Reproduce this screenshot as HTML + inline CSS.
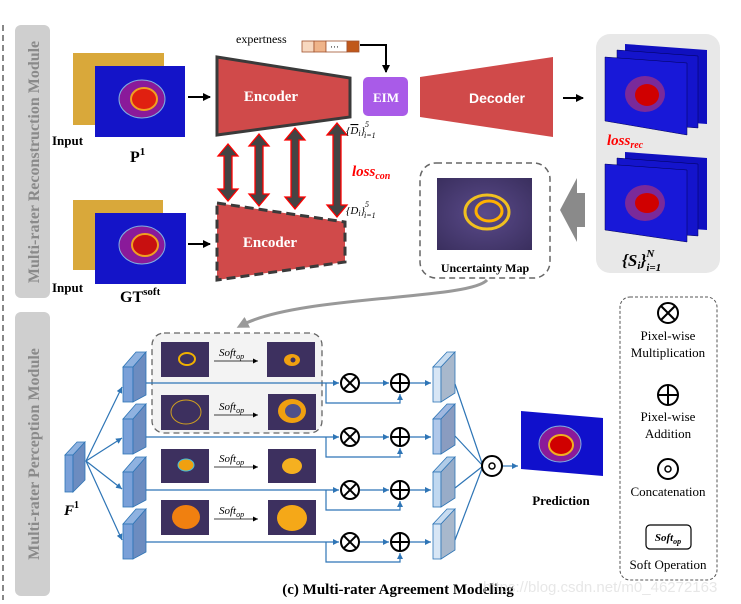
<!DOCTYPE html>
<html><head><meta charset="utf-8"><style>
html,body{margin:0;padding:0;background:#fff;}
svg{display:block;font-family:"Liberation Serif",serif;}
</style></head><body>
<svg width="741" height="604" viewBox="0 0 741 604" xmlns="http://www.w3.org/2000/svg">
<defs>
<marker id="ab" markerWidth="8" markerHeight="8" refX="7" refY="4" orient="auto" markerUnits="userSpaceOnUse"><path d="M0,0 L8,4 L0,8z" fill="#000"/></marker>
<marker id="abl" markerWidth="6" markerHeight="6" refX="6" refY="3" orient="auto" markerUnits="userSpaceOnUse"><path d="M0,0 L6,3 L0,6z" fill="#2e75b6"/></marker>
<marker id="ag" markerWidth="12" markerHeight="12" refX="6" refY="6" orient="auto" markerUnits="userSpaceOnUse"><path d="M0,0 L12,6 L0,12z" fill="#999"/></marker>
<marker id="as" markerWidth="5" markerHeight="5" refX="5" refY="2.5" orient="auto" markerUnits="userSpaceOnUse"><path d="M0,0 L5,2.5 L0,5z" fill="#000"/></marker>
<radialGradient id="pur" cx="50%" cy="50%" r="70%"><stop offset="0" stop-color="#5a4a8a"/><stop offset="1" stop-color="#3a2f5e"/></radialGradient>
</defs>

<line x1="3" y1="25" x2="3" y2="600" stroke="#888" stroke-width="2" stroke-dasharray="6,4"/>
<rect x="15" y="25" width="35" height="273" rx="6" fill="#cfcfcf"/>
<text transform="translate(39,162) rotate(-90)" text-anchor="middle" font-size="16" font-weight="bold" fill="#8a8a8a">Multi-rater Reconstruction Module</text>
<rect x="15" y="312" width="35" height="284" rx="6" fill="#cfcfcf"/>
<text transform="translate(39,454) rotate(-90)" text-anchor="middle" font-size="16" font-weight="bold" fill="#8a8a8a">Multi-rater Perception Module</text>

<rect x="73" y="53" width="91" height="72" fill="#d9a83a"/>
<rect x="95" y="66" width="90" height="71" fill="#1414c8"/>
<ellipse cx="142" cy="99" rx="23" ry="19" fill="#8a1a9a" stroke="#7fb0e0" stroke-width="1"/>
<ellipse cx="144" cy="99" rx="13" ry="11" fill="#e02010" stroke="#f0a020" stroke-width="2"/>
<text x="52" y="145" font-size="13" font-weight="bold">Input</text>
<text x="130" y="162" font-size="16" font-weight="bold">P<tspan font-size="11" dy="-7">1</tspan></text>

<rect x="73" y="200" width="90" height="70" fill="#d9a83a"/>
<rect x="95" y="213" width="91" height="71" fill="#1414c8"/>
<ellipse cx="142" cy="245" rx="23" ry="19" fill="#8a1a9a" stroke="#7fb0e0" stroke-width="1"/>
<ellipse cx="145" cy="245" rx="13" ry="11" fill="#c81010" stroke="#f0a020" stroke-width="2"/>
<text x="52" y="292" font-size="13" font-weight="bold">Input</text>
<text x="120" y="302" font-size="16" font-weight="bold">GT<tspan font-size="11" dy="-7">soft</tspan></text>

<line x1="188" y1="97" x2="210" y2="97" stroke="#000" stroke-width="2" marker-end="url(#ab)"/>
<line x1="188" y1="244" x2="210" y2="244" stroke="#000" stroke-width="2" marker-end="url(#ab)"/>

<polygon points="217,57 350,78 350,117 217,135" fill="#d04a4a" stroke="#3a3a3a" stroke-width="3"/>
<text x="271" y="101" text-anchor="middle" font-size="15" font-weight="bold" fill="#fff">Encoder</text>
<polygon points="217,203 345,222 345,262 217,280" fill="#d04a4a" stroke="#3a3a3a" stroke-width="3" stroke-dasharray="9,5"/>
<text x="270" y="247" text-anchor="middle" font-size="15" font-weight="bold" fill="#fff">Encoder</text>

<g fill="#444" stroke="#f00" stroke-width="1.3">
<path d="M228,144 l-10,12 h6 v33 h-6 l10,12 l10,-12 h-6 v-33 h6z"/>
<path d="M259,134 l-10,12 h6 v48 h-6 l10,12 l10,-12 h-6 v-48 h6z"/>
<path d="M295,128 l-10,12 h6 v57 h-6 l10,12 l10,-12 h-6 v-57 h6z"/>
<path d="M337,123 l-10,12 h6 v70 h-6 l10,12 l10,-12 h-6 v-70 h6z"/>
</g>
<text x="346" y="134" font-size="11" font-style="italic">{<tspan text-decoration="overline">D</tspan><tspan font-size="8" dy="2">i</tspan><tspan dy="-2">}</tspan><tspan font-size="8" dy="-7">5</tspan><tspan font-size="8" dx="-5" dy="11">i=1</tspan></text>
<text x="346" y="214" font-size="11" font-style="italic">{D<tspan font-size="8" dy="2">i</tspan><tspan dy="-2">}</tspan><tspan font-size="8" dy="-7">5</tspan><tspan font-size="8" dx="-5" dy="11">i=1</tspan></text>
<text x="352" y="176" font-size="15" font-weight="bold" font-style="italic" fill="#f00">loss<tspan font-size="10" dy="3">con</tspan></text>

<text x="236" y="43" font-size="12">expertness</text>
<rect x="302" y="41" width="12" height="11" fill="#f7d8c0" stroke="#a0522d" stroke-width="0.8"/>
<rect x="314" y="41" width="12" height="11" fill="#efb48a" stroke="#a0522d" stroke-width="0.8"/>
<rect x="326" y="41" width="21" height="11" fill="#fff" stroke="#a0522d" stroke-width="0.8"/>
<text x="330" y="50" font-size="9">···</text>
<rect x="347" y="41" width="12" height="11" fill="#c0581a" stroke="#a0522d" stroke-width="0.8"/>
<polyline points="360,45 386,45 386,72" fill="none" stroke="#000" stroke-width="2" marker-end="url(#ab)"/>
<rect x="363" y="77" width="45" height="39" rx="5" fill="#a95be8"/>
<text x="386" y="102" text-anchor="middle" font-size="13" font-weight="bold" fill="#fff">EIM</text>

<polygon points="420,77 553,57 553,137 420,117" fill="#d04a4a"/>
<text x="497" y="103" text-anchor="middle" font-size="14" font-weight="bold" fill="#fff" font-family="Liberation Sans,sans-serif">Decoder</text>
<line x1="563" y1="98" x2="583" y2="98" stroke="#000" stroke-width="2" marker-end="url(#ab)"/>

<rect x="596" y="34" width="124" height="239" rx="14" fill="#e8e8e8"/>
<g>
<polygon points="625,44 707,50 707,124 625,118" fill="#1010c0"/>
<polygon points="617,50 698,56 698,128 617,122" fill="#1414cc" stroke="#000055" stroke-width="0.5"/>
<polygon points="605,57 687,63 687,135 605,121" fill="#1818d8" stroke="#000055" stroke-width="0.5"/>
<ellipse cx="645" cy="94" rx="20" ry="18" fill="#7a2a9a"/>
<ellipse cx="647" cy="95" rx="12" ry="11" fill="#d00000"/>
</g>
<text x="607" y="145" font-size="15" font-weight="bold" font-style="italic" fill="#f00">loss<tspan font-size="10" dy="3">rec</tspan></text>
<g>
<polygon points="625,152 707,158 707,230 625,224" fill="#1010c0"/>
<polygon points="617,158 698,164 698,236 617,230" fill="#1414cc" stroke="#000055" stroke-width="0.5"/>
<polygon points="605,164 687,170 687,242 605,230" fill="#1818d8" stroke="#000055" stroke-width="0.5"/>
<ellipse cx="645" cy="203" rx="20" ry="18" fill="#7a2a9a"/>
<ellipse cx="647" cy="203" rx="12" ry="10" fill="#d00000"/>
</g>
<text x="622" y="266" font-size="17" font-weight="bold" font-style="italic">{S<tspan font-size="11" dy="3">i</tspan><tspan dy="-3">}</tspan><tspan font-size="11" dy="-9">N</tspan><tspan font-size="11" dx="-8" dy="14">i=1</tspan></text>

<path d="M585,193 h-8 v-15 l-17,32 l17,32 v-15 h8z" fill="#8a8a8a"/>

<rect x="420" y="163" width="130" height="115" rx="16" fill="#fff" stroke="#666" stroke-width="1.5" stroke-dasharray="6,4"/>
<rect x="437" y="178" width="95" height="72" fill="url(#pur)"/>
<ellipse cx="487" cy="212" rx="22" ry="17" fill="none" stroke="#f0c020" stroke-width="3"/>
<ellipse cx="489" cy="211" rx="13" ry="10" fill="none" stroke="#ffb000" stroke-width="3"/>
<text x="485" y="272" text-anchor="middle" font-size="12" font-weight="bold">Uncertainty Map</text>
<path d="M487,280 C470,300 300,295 242,325" fill="none" stroke="#999" stroke-width="3" marker-end="url(#ag)"/>

<rect x="152" y="333" width="170" height="100" rx="12" fill="#f3f3f3" stroke="#666" stroke-width="1.3" stroke-dasharray="6,4"/>

<g>
<rect x="161" y="342" width="48" height="35" fill="#3d305f"/>
<ellipse cx="187" cy="359" rx="8" ry="6" fill="none" stroke="#f0b000" stroke-width="2"/>
<rect x="267" y="342" width="48" height="35" fill="#3d305f"/>
<ellipse cx="292" cy="360" rx="8" ry="6" fill="#f0a010"/><circle cx="293" cy="360" r="2.5" fill="#3d305f"/>
<rect x="161" y="395" width="48" height="35" fill="#3d305f"/>
<ellipse cx="186" cy="412" rx="15" ry="12" fill="none" stroke="#d0a020" stroke-width="1"/>
<rect x="268" y="394" width="48" height="36" fill="#3d305f"/>
<ellipse cx="292" cy="411" rx="14" ry="12" fill="#f0a010"/><ellipse cx="293" cy="411" rx="8" ry="7" fill="#50508a"/>
<rect x="161" y="449" width="48" height="34" fill="#3d305f"/>
<ellipse cx="186" cy="465" rx="8" ry="6" fill="#f0a010" stroke="#40c0e0" stroke-width="1"/>
<rect x="268" y="449" width="48" height="34" fill="#3d305f"/>
<ellipse cx="292" cy="466" rx="10" ry="8" fill="#f5b020"/>
<rect x="161" y="500" width="48" height="35" fill="#3d305f"/>
<ellipse cx="186" cy="517" rx="14" ry="12" fill="#f08010"/>
<rect x="268" y="500" width="48" height="35" fill="#3d305f"/>
<ellipse cx="292" cy="518" rx="15" ry="13" fill="#f5a818"/>
</g>
<g font-size="11" font-style="italic">
<text x="219" y="356">Soft<tspan font-size="8" dy="3">op</tspan></text>
<text x="219" y="410">Soft<tspan font-size="8" dy="3">op</tspan></text>
<text x="219" y="462">Soft<tspan font-size="8" dy="3">op</tspan></text>
<text x="219" y="514">Soft<tspan font-size="8" dy="3">op</tspan></text>
</g>
<g stroke="#000" stroke-width="0.8" marker-end="url(#as)">
<line x1="214" y1="361" x2="258" y2="361"/>
<line x1="214" y1="415" x2="258" y2="415"/>
<line x1="214" y1="467" x2="258" y2="467"/>
<line x1="214" y1="519" x2="258" y2="519"/>
</g>

<g stroke="#2e75b6" stroke-width="0.8">
<polygon points="65,455 73,455 85,442 77,442" fill="#8fb2e0"/>
<rect x="65" y="455" width="8" height="37" fill="#7aa0d8"/>
<polygon points="73,455 85,442 85,480 73,492" fill="#6c8cc0"/>
</g>
<text x="64" y="515" font-size="15" font-weight="bold" font-style="italic">F<tspan font-size="10" dy="-7" font-style="normal">1</tspan></text>

<g stroke="#2e75b6" stroke-width="0.8">
<g><polygon points="123,367 133,367 146,352 136,352" fill="#8fb2e0"/><rect x="123" y="367" width="10" height="35" fill="#7aa0d8"/><polygon points="133,367 146,352 146,395 133,402" fill="#6c8cc0"/></g>
<g transform="translate(0,52)"><polygon points="123,367 133,367 146,352 136,352" fill="#8fb2e0"/><rect x="123" y="367" width="10" height="35" fill="#7aa0d8"/><polygon points="133,367 146,352 146,395 133,402" fill="#6c8cc0"/></g>
<g transform="translate(0,105)"><polygon points="123,367 133,367 146,352 136,352" fill="#8fb2e0"/><rect x="123" y="367" width="10" height="35" fill="#7aa0d8"/><polygon points="133,367 146,352 146,395 133,402" fill="#6c8cc0"/></g>
<g transform="translate(0,157)"><polygon points="123,367 133,367 146,352 136,352" fill="#8fb2e0"/><rect x="123" y="367" width="10" height="35" fill="#7aa0d8"/><polygon points="133,367 146,352 146,395 133,402" fill="#6c8cc0"/></g>
</g>
<g stroke="#2e75b6" stroke-width="1.2" fill="none" marker-end="url(#abl)">
<line x1="86" y1="461" x2="122" y2="387"/>
<line x1="86" y1="461" x2="122" y2="438"/>
<line x1="86" y1="461" x2="122" y2="489"/>
<line x1="86" y1="461" x2="122" y2="540"/>
</g>

<g stroke="#2e75b6" stroke-width="1.2" fill="none">
<g id="r1">
<line x1="146" y1="383" x2="339" y2="383" marker-end="url(#abl)"/>
<polyline points="326,383 326,403 400,403 400,394" marker-end="url(#abl)"/>
<line x1="360" y1="383" x2="389" y2="383" marker-end="url(#abl)"/>
<line x1="410" y1="383" x2="431" y2="383" marker-end="url(#abl)"/>
</g>
<use href="#r1" y="54"/>
<use href="#r1" y="107"/>
<use href="#r1" y="159"/>
</g>
<g fill="#fff" stroke="#000" stroke-width="2">
<g id="ot"><circle cx="350" cy="383" r="9"/><line x1="343.6" y1="376.6" x2="356.4" y2="389.4"/><line x1="356.4" y1="376.6" x2="343.6" y2="389.4"/>
<circle cx="400" cy="383" r="9"/><line x1="391" y1="383" x2="409" y2="383"/><line x1="400" y1="374" x2="400" y2="392"/></g>
<use href="#ot" y="54"/><use href="#ot" y="107"/><use href="#ot" y="159"/>
</g>

<g stroke="#2e75b6" stroke-width="0.8">
<g><polygon points="433,367 441,367 455,352 447,352" fill="#c8dcf0"/><rect x="433" y="367" width="8" height="35" fill="#d8e6f5"/><polygon points="441,367 455,352 455,393 441,402" fill="#a8b8cc"/></g>
<g transform="translate(0,52)"><polygon points="433,367 441,367 455,352 447,352" fill="#a0b8e0"/><rect x="433" y="367" width="8" height="35" fill="#b0c8ea"/><polygon points="441,367 455,352 455,393 441,402" fill="#8a9cc0"/></g>
<g transform="translate(0,105)"><polygon points="433,367 441,367 455,352 447,352" fill="#b0cce8"/><rect x="433" y="367" width="8" height="35" fill="#c0d8f0"/><polygon points="441,367 455,352 455,393 441,402" fill="#98acc8"/></g>
<g transform="translate(0,157)"><polygon points="433,367 441,367 455,352 447,352" fill="#c8dcf0"/><rect x="433" y="367" width="8" height="35" fill="#d8e6f5"/><polygon points="441,367 455,352 455,393 441,402" fill="#a8b8cc"/></g>
</g>
<g stroke="#2e75b6" stroke-width="1.2">
<line x1="455" y1="384" x2="483" y2="466"/>
<line x1="455" y1="436" x2="483" y2="466"/>
<line x1="455" y1="488" x2="483" y2="466"/>
<line x1="455" y1="540" x2="483" y2="466"/>
<line x1="502" y1="466" x2="518" y2="466" marker-end="url(#abl)"/>
</g>
<circle cx="492" cy="466" r="10" fill="#fff" stroke="#000" stroke-width="2"/>
<circle cx="492" cy="466" r="3" fill="none" stroke="#000" stroke-width="1.5"/>

<polygon points="521,411 603,418 603,476 521,469" fill="#1010cc"/>
<ellipse cx="560" cy="444" rx="21" ry="18" fill="#8a1a9a" stroke="#7fb0e0" stroke-width="1"/>
<ellipse cx="561" cy="445" rx="12" ry="10" fill="#d00000" stroke="#f0b020" stroke-width="2"/>
<text x="561" y="505" text-anchor="middle" font-size="13" font-weight="bold">Prediction</text>

<rect x="620" y="297" width="97" height="283" rx="10" fill="#fff" stroke="#555" stroke-width="1" stroke-dasharray="3,2"/>
<g fill="none" stroke="#000" stroke-width="2">
<circle cx="668" cy="313" r="10"/><line x1="661" y1="306" x2="675" y2="320"/><line x1="675" y1="306" x2="661" y2="320"/>
<circle cx="668" cy="395" r="10"/><line x1="658" y1="395" x2="678" y2="395"/><line x1="668" y1="385" x2="668" y2="405"/>
<circle cx="668" cy="469" r="10"/><circle cx="668" cy="469" r="3" stroke-width="1.5"/>
</g>
<g font-size="13" text-anchor="middle">
<text x="668" y="340">Pixel-wise</text>
<text x="668" y="357">Multiplication</text>
<text x="668" y="421">Pixel-wise</text>
<text x="668" y="438">Addition</text>
<text x="668" y="496">Concatenation</text>
<text x="668" y="569">Soft Operation</text>
</g>
<rect x="646" y="525" width="45" height="24" rx="4" fill="#fff" stroke="#000" stroke-width="1.2"/>
<text x="668" y="541" text-anchor="middle" font-size="11" font-weight="bold" font-style="italic">Soft<tspan font-size="8" dy="3">op</tspan></text>

<text x="398" y="594" text-anchor="middle" font-size="15" font-weight="bold">(c) Multi-rater Agreement Modeling</text>
<text x="483" y="592" font-size="15" fill="#ddd" fill-opacity="0.7" font-family="Liberation Sans,sans-serif">https://blog.csdn.net/m0_46272163</text>
</svg>
</body></html>
